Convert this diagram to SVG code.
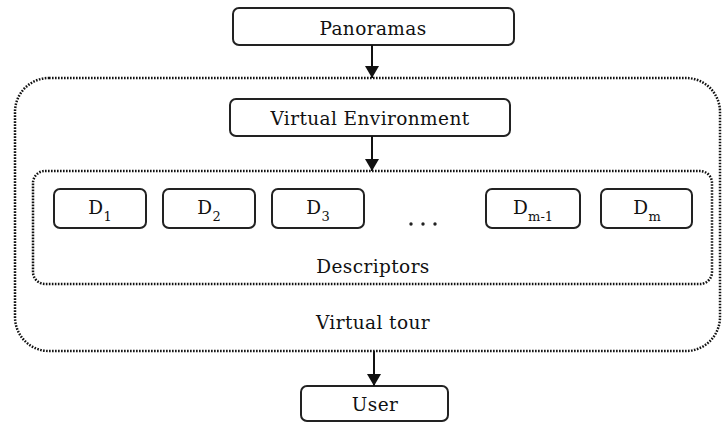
<svg xmlns="http://www.w3.org/2000/svg" width="725" height="423" viewBox="0 0 725 423">
  <style>
    .box { fill: #ffffff; stroke: #222222; stroke-width: 2; }
    .group { fill: none; stroke: #111111; stroke-width: 2.5; stroke-dasharray: 1.6 1.4; }
    .lbl { font-family: "DejaVu Serif", "Liberation Serif", serif; font-size: 18.5px; font-weight: 300; letter-spacing: 0.4px; fill: #111111; text-anchor: middle; }
    .sub { font-size: 13px; letter-spacing: 0; }
    .edge { stroke: #111111; stroke-width: 2; fill: none; }
  </style>
  <defs>
    <marker id="arrow" markerWidth="12" markerHeight="14" refX="12" refY="7" orient="auto" markerUnits="userSpaceOnUse">
      <path d="M0,0 L12,7 L0,14 z" fill="#111111"/>
    </marker>
  </defs>
  <rect width="725" height="423" fill="#ffffff"/>

  <!-- outer container: virtual tour -->
  <g id="virtual-tour">
    <rect class="group" x="15" y="78" width="705" height="273" rx="34" ry="34"/>
    <text class="lbl" x="373" y="329">Virtual tour</text>
  </g>

  <!-- inner container: descriptors -->
  <g id="descriptors">
    <rect class="group" x="33" y="171" width="679" height="113" rx="12" ry="12"/>
    <text class="lbl" x="373" y="273">Descriptors</text>
    <circle cx="411" cy="224" r="1.7" fill="#222"/>
    <circle cx="423" cy="224" r="1.7" fill="#222"/>
    <circle cx="435" cy="224" r="1.7" fill="#222"/>
  </g>

  <g id="panoramas">
    <rect class="box" x="233" y="8" width="281" height="37" rx="6" ry="6"/>
    <text class="lbl" x="373" y="35">Panoramas</text>
  </g>

  <g id="virtual-environment">
    <rect class="box" x="230" y="99" width="280" height="37" rx="6" ry="6"/>
    <text class="lbl" x="370" y="125">Virtual Environment</text>
  </g>

  <g id="d1">
    <rect class="box" x="54" y="189" width="92" height="39" rx="6" ry="6"/>
    <text class="lbl" x="100" y="214">D<tspan class="sub" dy="7">1</tspan></text>
  </g>
  <g id="d2">
    <rect class="box" x="163" y="189" width="92" height="39" rx="6" ry="6"/>
    <text class="lbl" x="209" y="214">D<tspan class="sub" dy="7">2</tspan></text>
  </g>
  <g id="d3">
    <rect class="box" x="272" y="189" width="92" height="39" rx="6" ry="6"/>
    <text class="lbl" x="318" y="214">D<tspan class="sub" dy="7">3</tspan></text>
  </g>
  <g id="dm-1">
    <rect class="box" x="486" y="189" width="94" height="39" rx="6" ry="6"/>
    <text class="lbl" x="533" y="214">D<tspan class="sub" dy="7">m-1</tspan></text>
  </g>
  <g id="dm">
    <rect class="box" x="601" y="189" width="91" height="39" rx="6" ry="6"/>
    <text class="lbl" x="647" y="214">D<tspan class="sub" dy="7">m</tspan></text>
  </g>

  <g id="user">
    <rect class="box" x="301" y="386" width="147" height="35" rx="6" ry="6"/>
    <text class="lbl" x="375" y="411">User</text>
  </g>

  <!-- connectors -->
  <g id="connectors">
    <line class="edge" x1="372" y1="45" x2="372" y2="78" marker-end="url(#arrow)"/>
    <line class="edge" x1="372" y1="136" x2="372" y2="171" marker-end="url(#arrow)"/>
    <line class="edge" x1="374" y1="351" x2="374" y2="386" marker-end="url(#arrow)"/>
  </g>
</svg>
